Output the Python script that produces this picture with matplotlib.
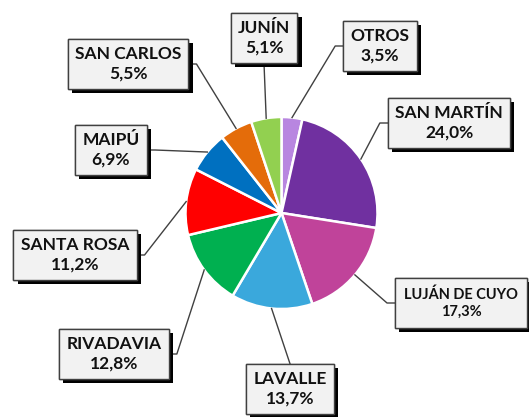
import matplotlib
matplotlib.use("Agg")
import matplotlib.pyplot as plt
import matplotlib.patheffects as pe
import numpy as np

labels = ["OTROS", "SAN MARTÍN", "LUJÁN DE CUYO", "LAVALLE", "RIVADAVIA",
          "SANTA ROSA", "MAIPÚ", "SAN CARLOS", "JUNÍN"]
values = [3.5, 24.0, 17.3, 13.7, 12.8, 11.2, 6.9, 5.5, 5.1]
colors = ["#b886e0", "#7030a0", "#c0439a", "#3aa8dc", "#00b050",
          "#ff0000", "#0070c0", "#e46c0a", "#92d050"]

W, H = 529, 417
# label box centers (pixel coords from top-left) and attach side
label_pos = [(380, 46), (449, 123), (461, 303), (290, 389), (114, 354),
             (75, 255), (111, 150), (128, 64), (264, 38)]
sides = ["left", "left", "left", "top", "right", "right", "right", "right", "bottom"]
fsizes = [12.5, 12.5, 10.5, 12.5, 12.5, 12.5, 12.5, 12.5, 12.5]
pads = [0.42, 0.42, 0.62, 0.42, 0.42, 0.42, 0.42, 0.42, 0.42]

fig = plt.figure(figsize=(W / 100, H / 100), dpi=100)
ax = fig.add_axes([0, 0, 1, 1])

cx, cy, R = 281.5, H - 213, 96
wedges, _ = ax.pie(values, colors=colors, startangle=90, counterclock=False,
                   center=(cx, cy), radius=R,
                   wedgeprops=dict(edgecolor="white", linewidth=1.8))
ax.set_xlim(0, W)
ax.set_ylim(0, H)
ax.set_aspect("auto")
ax.axis("off")

texts = []
for lab, v, (px, py), fs, pd in zip(labels, values, label_pos, fsizes, pads):
    s = f"{lab}\n{v:.1f}%".replace(".", ",")
    t = ax.text(px, H - py, s, ha="center", va="center", fontsize=fs,
                fontweight="bold", family="Lato", color="#111111",
                linespacing=1.3,
                bbox=dict(boxstyle=f"square,pad={pd}", facecolor="#f2f2f2",
                          edgecolor="#404040", linewidth=1.0), zorder=5)
    t.get_bbox_patch().set_path_effects(
        [pe.withSimplePatchShadow(offset=(3, -3), shadow_rgbFace="black", alpha=1.0),
         pe.Normal()])
    texts.append(t)

fig.canvas.draw()
inv = ax.transData.inverted()
for w, t, side in zip(wedges, texts, sides):
    th = np.deg2rad((w.theta1 + w.theta2) / 2)
    ax_pt = (cx + R * np.cos(th), cy + R * np.sin(th))
    ext = t.get_bbox_patch().get_window_extent()
    (x0, y0), (x1, y1) = inv.transform([[ext.x0, ext.y0], [ext.x1, ext.y1]])
    ym = (y0 + y1) / 2
    xm = (x0 + x1) / 2
    if side == "left":
        pts = [ax_pt, (x0 - 8, ym), (x0, ym)]
    elif side == "right":
        pts = [ax_pt, (x1 + 8, ym), (x1, ym)]
    elif side == "top":
        pts = [ax_pt, (xm, y1)]
    else:
        pts = [ax_pt, (xm, y0)]
    pts = np.array(pts)
    ax.plot(pts[:, 0], pts[:, 1], color="#404040", linewidth=1.0, zorder=3)

fig.savefig("out.png", dpi=100)
